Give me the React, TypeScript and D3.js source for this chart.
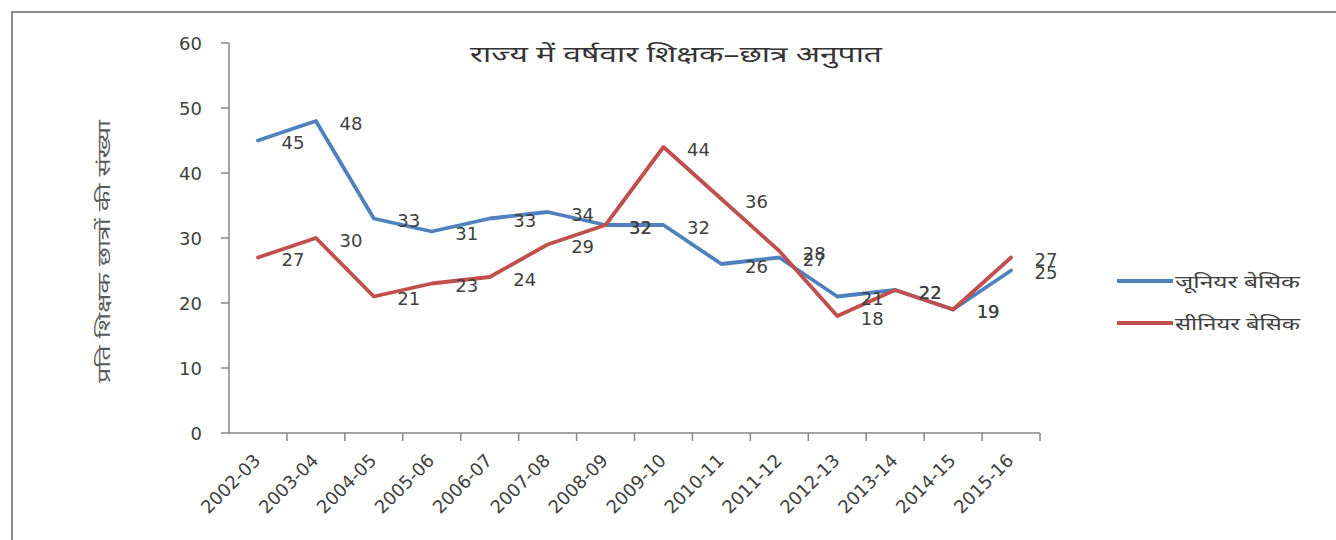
import React from "react";
import * as d3 from "d3";

const categories = [
  "2002-03", "2003-04", "2004-05", "2005-06", "2006-07", "2007-08", "2008-09",
  "2009-10", "2010-11", "2011-12", "2012-13", "2013-14", "2014-15", "2015-16",
];
const juniorValues = [45, 48, 33, 31, 33, 34, 32, 32, 26, 27, 21, 22, 19, 25];
const seniorValues = [27, 30, 21, 23, 24, 29, 32, 44, 36, 28, 18, 22, 19, 27];
const yTicks = [0, 10, 20, 30, 40, 50, 60];
const seriesNames = ["जूनियर बेसिक", "सीनियर बेसिक"];
const chartTitle = "राज्य में वर्षवार शिक्षक–छात्र अनुपात";
const yAxisTitle = "प्रति शिक्षक छात्रों की संख्या";

const W = 1336;
const H = 540;
const plot = { left: 229, right: 1040, top: 43, bottom: 433 };
const colors = ["#4F81BD", "#C0504D"];
const numFont = "'DejaVu Sans', sans-serif";
const hiFont = "'Noto Sans', 'Noto Sans Devanagari', 'Lohit Devanagari', sans-serif";

export default function App() {
  const x = d3.scaleBand<string>().domain(categories).range([plot.left, plot.right]);
  const y = d3.scaleLinear().domain([0, 60]).range([plot.bottom, plot.top]);
  const cx = (c: string) => (x(c) as number) + x.bandwidth() / 2;
  const series = [juniorValues, seniorValues];
  const line = d3
    .line<number>()
    .x((_, i) => cx(categories[i]))
    .y((v) => y(v));
  const axisColor = "#868686";
  const textColor = "#404040";

  return (
    <svg
      width={W}
      height={H}
      style={{ position: "absolute", left: 0, top: 0, background: "#fff" }}
    >
      <rect x={0} y={0} width={W} height={H} fill="#fff" />
      <rect x={12} y={12} width={W} height={H} fill="#fff" stroke="#8c8c8c" strokeWidth={2} />

      {/* title */}
      <text
        x={470}
        y={53}
        dominantBaseline="central"
        fontFamily={hiFont}
        fontSize={22}
        textLength={412}
        lengthAdjust="spacingAndGlyphs"
        fill="#333"
      >
        {chartTitle}
      </text>

      {/* y axis title */}
      <text
        transform={`translate(103,383) rotate(-90)`}
        dominantBaseline="central"
        fontFamily={hiFont}
        fontSize={18}
        textLength={263}
        lengthAdjust="spacingAndGlyphs"
        fill="#595959"
      >
        {yAxisTitle}
      </text>

      {/* y axis */}
      <line x1={plot.left} x2={plot.left} y1={plot.top} y2={plot.bottom} stroke={axisColor} strokeWidth={1.5} />
      {yTicks.map((t) => (
        <g key={t}>
          <line x1={plot.left - 8} x2={plot.left} y1={y(t)} y2={y(t)} stroke={axisColor} strokeWidth={1.5} />
          <text
            x={202}
            y={y(t)}
            textAnchor="end"
            dominantBaseline="central"
            fontFamily={numFont}
            fontSize={18}
            fill={textColor}
          >
            {t}
          </text>
        </g>
      ))}

      {/* x axis */}
      <line x1={plot.left} x2={plot.right} y1={plot.bottom} y2={plot.bottom} stroke={axisColor} strokeWidth={1.5} />
      {categories.map((c, i) => (
        <line
          key={"t" + i}
          x1={(x(c) as number) + x.bandwidth()}
          x2={(x(c) as number) + x.bandwidth()}
          y1={plot.bottom}
          y2={plot.bottom + 8}
          stroke={axisColor}
          strokeWidth={1.5}
        />
      ))}
      {categories.map((c) => (
        <text
          key={c}
          transform={`translate(${cx(c) - 6},${plot.bottom + 19}) rotate(-45)`}
          textAnchor="end"
          dy="0.76em"
          fontFamily={numFont}
          fontSize={18}
          fill={textColor}
        >
          {c}
        </text>
      ))}

      {/* lines */}
      {series.map((vals, si) => (
        <path
          key={"l" + si}
          d={line(vals) as string}
          fill="none"
          stroke={colors[si]}
          strokeWidth={3.8}
          strokeLinejoin="round"
          strokeLinecap="round"
        />
      ))}

      {/* data labels */}
      {series.map((vals, si) =>
        vals.map((v, i) => (
          <text
            key={`d${si}-${i}`}
            x={cx(categories[i]) + 35}
            y={y(v) + 2}
            textAnchor="middle"
            dominantBaseline="central"
            fontFamily={numFont}
            fontSize={18}
            fill={textColor}
          >
            {v}
          </text>
        ))
      )}

      {/* legend */}
      {seriesNames.map((n, si) => (
        <g key={n} transform={`translate(1117,${281 + si * 42})`}>
          <line x1={0} x2={56} y1={0} y2={0} stroke={colors[si]} strokeWidth={3.8} />
          <text
            x={58}
            y={0}
            dominantBaseline="central"
            fontFamily={hiFont}
            fontSize={17}
            textLength={125}
            lengthAdjust="spacingAndGlyphs"
            fill={textColor}
          >
            {n}
          </text>
        </g>
      ))}
    </svg>
  );
}
